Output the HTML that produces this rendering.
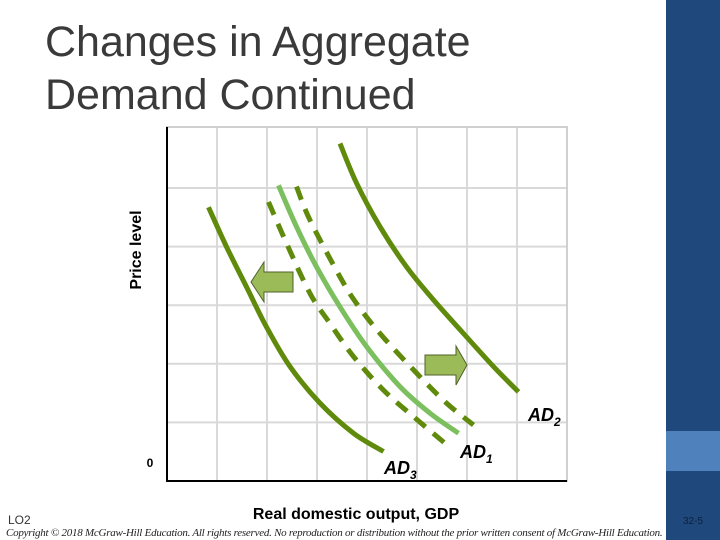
<!DOCTYPE html>
<html><head><meta charset="utf-8"><style>
body{margin:0;width:720px;height:540px;overflow:hidden;background:#fff;font-family:"Liberation Sans",sans-serif;position:relative}
.abs{position:absolute}
</style></head><body>
<div class="abs" style="left:666px;top:0;width:54px;height:540px;background:#1f497d"></div>
<div class="abs" style="left:666px;top:431px;width:54px;height:40px;background:#4f81bd"></div>
<div class="abs" style="left:666px;top:516px;width:54px;text-align:center;font-size:10px;color:#0d1f3a">32-5</div>
<div class="abs" style="left:45px;top:16px;font-size:43px;line-height:53px;color:#3a3a3a">Changes in Aggregate<br>Demand Continued</div>
<div class="abs" style="left:8px;top:513px;font-size:12px;color:#333">LO2</div>
<div class="abs" style="left:6px;top:527px;font-family:'Liberation Serif',serif;font-style:italic;font-size:11px;color:#222;white-space:nowrap;letter-spacing:-0.25px">Copyright © 2018 McGraw-Hill Education. All rights reserved. No reproduction or distribution without the prior written consent of McGraw-Hill Education.</div>
<svg class="abs" style="left:0;top:0" width="720" height="540" id="chart">
<text x="141" y="250" transform="rotate(-90 141 250)" text-anchor="middle" font-weight="bold" font-size="16" fill="#000">Price level</text>
<text x="356" y="519" text-anchor="middle" font-weight="bold" font-size="16" fill="#000">Real domestic output, GDP</text>
<text x="150" y="467" text-anchor="middle" font-weight="bold" font-size="12" fill="#000">0</text>
</svg>
<script>
const xTicks=[1,2,3,4,5,6,7];
const yTicks=[1,2,3,4,5];
const ad3X=[0.83,1.19,1.59,1.99,2.46,3.06,3.73,4.33];
const ad3Y=[4.64,3.97,3.29,2.61,1.94,1.32,0.81,0.50];
const ad1X=[2.23,2.59,2.99,3.46,3.99,4.66,5.26,5.83];
const ad1Y=[5.01,4.31,3.63,2.95,2.28,1.60,1.15,0.81];
const ad2X=[3.46,3.79,4.26,4.79,5.33,5.93,6.53,7.03];
const ad2Y=[5.72,5.05,4.31,3.63,3.07,2.50,1.94,1.51];
const dashLX=[2.03,2.39,2.86,3.26,3.73,4.33,4.93,5.56];
const dashLY=[4.73,4.03,3.18,2.67,2.11,1.54,1.09,0.64];
const dashRX=[2.59,2.86,3.46,3.79,4.26,4.99,5.59,6.13];
const dashRY=[4.99,4.42,3.46,3.01,2.50,1.83,1.32,0.95];
const L=167,R=567,T=127,B=481;
const sx=v=>L+v*50, sy=v=>B-v*59;
const svg=document.getElementById('chart');
const NS='http://www.w3.org/2000/svg';
function mk(tag,attrs){const e=document.createElementNS(NS,tag);for(const k in attrs)e.setAttribute(k,attrs[k]);svg.appendChild(e);return e;}
xTicks.forEach(t=>{const e=mk('line',{x1:sx(t),x2:sx(t),y1:T,y2:B,stroke:'#d9d9d9','stroke-width':2});

});
yTicks.forEach(t=>{const e=mk('line',{x1:L,x2:R,y1:sy(t)+(t*0.4),y2:sy(t)+(t*0.4),stroke:'#d9d9d9','stroke-width':2});

});
const fr=mk('rect',{x:L,y:T,width:R-L,height:B-T,fill:'none',stroke:'#d0d0d0','stroke-width':2});


const ax=mk('polyline',{points:`${L},${T} ${L},${B} ${R},${B}`,fill:'none',stroke:'#000','stroke-width':2});


function path(xs,ys){const p=xs.map((x,i)=>[sx(x),sy(ys[i])]);let d=`M${p[0][0]},${p[0][1]}`;
for(let i=0;i<p.length-1;i++){const p0=p[i-1]||p[i],p1=p[i],p2=p[i+1],p3=p[i+2]||p2;
d+=` C${p1[0]+(p2[0]-p0[0])/6},${p1[1]+(p2[1]-p0[1])/6} ${p2[0]-(p3[0]-p1[0])/6},${p2[1]-(p3[1]-p1[1])/6} ${p2[0]},${p2[1]}`;}return d;}
function curve(xs,ys,color,dash,name){const e=mk('path',{d:path(xs,ys),fill:'none',stroke:color,'stroke-width':5});if(dash)e.setAttribute('stroke-dasharray',dash);

}
curve(dashLX,dashLY,'#5f8a0b','14 10','ad-shift-left-dashed');
curve(dashRX,dashRY,'#5f8a0b','14 10','ad-shift-right-dashed');
curve(ad1X,ad1Y,'#7bbf5e',null,'ad1-curve');
curve(ad3X,ad3Y,'#5f8a0b',null,'ad3-curve');
curve(ad2X,ad2Y,'#5f8a0b',null,'ad2-curve');
const la=mk('polygon',{points:'251,282 264,262 264,272 293,272 293,292 264,292 264,302',fill:'#9bbb59',stroke:'#4f6228','stroke-width':1});


const ra=mk('polygon',{points:'467,365 456,346 456,355 425,355 425,375 456,375 456,385',fill:'#9bbb59',stroke:'#4f6228','stroke-width':1});


function label(x,y,sub,name){const t=mk('text',{x:x,y:y,'font-weight':'bold','font-style':'italic','font-size':18,fill:'#000'});
t.innerHTML=`AD<tspan font-size="12" dy="5">${sub}</tspan>`;

}
label(528,421,'2','ad2-label');
label(460,458,'1','ad1-label');
label(384,474,'3','ad3-label');
</script>
</body></html>
